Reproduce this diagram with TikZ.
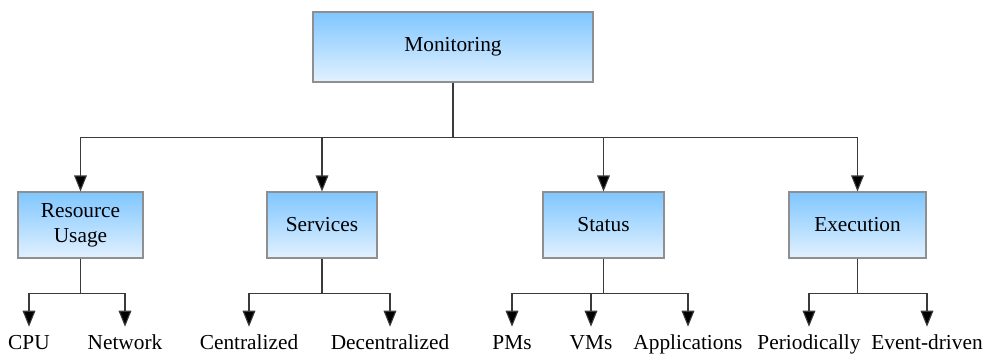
\documentclass[tikz,border=0pt]{standalone}
\usepackage{fontspec}
\setmainfont{Liberation Serif}
\usetikzlibrary{arrows.meta, positioning}
\definecolor{BoxTop}{HTML}{7FC6FF}
\definecolor{BoxBottom}{HTML}{E2F1FF}
\definecolor{BoxEdge}{HTML}{8F8F8F}
\definecolor{LineGray}{HTML}{3A3A3A}

\begin{document}
\begin{tikzpicture}[
    x=0.75pt, y=-0.75pt,
    box/.style={draw=BoxEdge, line width=0.8pt, top color=BoxTop, bottom color=BoxBottom, minimum height=49.5pt, align=center, font=\fontsize{16}{18.75}\selectfont, anchor=center},
    leaf/.style={inner sep=0pt, text height=16.5pt, text depth=4pt, font=\fontsize{16}{18.75}\selectfont, anchor=base},
    arr/.style={draw=LineGray, line width=0.8pt, -{Triangle[length=12pt, width=9.5pt, fill=black]}}
]
\useasboundingbox (0,0) rectangle (986,354);
\node[box, minimum width=210pt, minimum height=52.5pt] (mon) at (453, 47) {Monitoring};
\node[box, minimum width=93.75pt] (res) at (80.5, 225) {Resource\\Usage};
\node[box, minimum width=82.5pt] (serv) at (322, 225) {Services};
\node[box, minimum width=90.75pt] (stat) at (603.5, 225) {Status};
\node[box, minimum width=102.75pt] (exec) at (857.5, 225) {Execution};
\node[leaf] (cpu) at (29, 349) {CPU};
\node[leaf] (net) at (125, 349) {Network};
\node[leaf] (cent) at (249, 349) {Centralized};
\node[leaf] (decent) at (390, 349) {Decentralized};
\node[leaf] (pms) at (512, 349) {PMs};
\node[leaf] (vms) at (591, 349) {VMs};
\node[leaf] (apps) at (688, 349) {Applications};
\node[leaf] (peri) at (809, 349) {Periodically};
\node[leaf] (event) at (927, 349) {Event-driven};
\draw[arr] (mon.south) -- ++(0,55) -| (res);
\draw[arr] (mon.south) -- ++(0,55) -| (serv);
\draw[arr] (mon.south) -- ++(0,55) -| (stat);
\draw[arr] (mon.south) -- ++(0,55) -| (exec);
\draw[arr] (res.south) -- ++(0,35) -| (cpu);
\draw[arr] (res.south) -- ++(0,35) -| (net);
\draw[arr] (serv.south) -- ++(0,35) -| (cent);
\draw[arr] (serv.south) -- ++(0,35) -| (decent);
\draw[arr] (stat.south) -- ++(0,35) -| (pms);
\draw[arr] (stat.south) -- ++(0,35) -| (vms);
\draw[arr] (stat.south) -- ++(0,35) -| (apps);
\draw[arr] (exec.south) -- ++(0,35) -| (peri);
\draw[arr] (exec.south) -- ++(0,35) -| (event);
\end{tikzpicture}
\end{document}
